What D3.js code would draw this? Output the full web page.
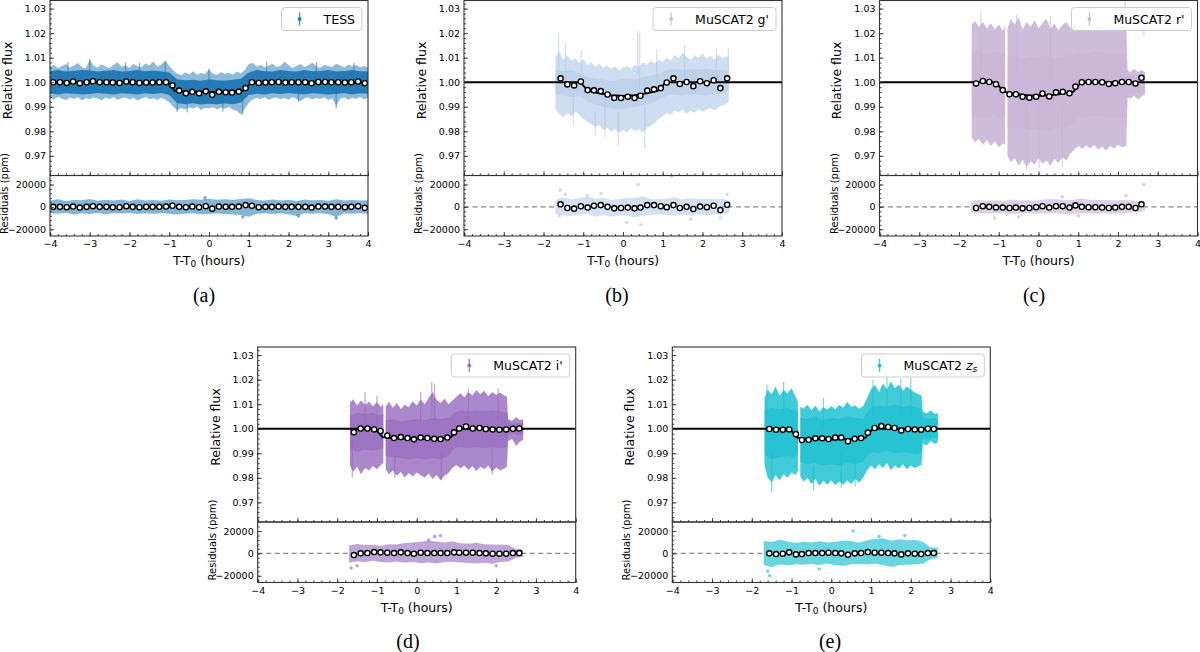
<!DOCTYPE html>
<html>
<head>
<meta charset="utf-8">
<script src="https://cdn.jsdelivr.net/npm/d3@7"></script>
<style>
  body { margin: 0; background: #fff; }
  svg { display: block; }
  text { font-family: "DejaVu Sans", sans-serif; fill: #000; }
</style>
</head>
<body>
<svg id="fig" width="1200" height="652"></svg>
<script>
'use strict';

// ---- ticks ----
var xTicks = [-4, -3, -2, -1, 0, 1, 2, 3, 4];
var fluxTicks = [0.97, 0.98, 0.99, 1.00, 1.01, 1.02, 1.03];
var resTicks = [-20000, 0, 20000];

// ---- (a) TESS ----
var tessBinT = [-3.92,-3.75,-3.58,-3.42,-3.25,-3.08,-2.92,-2.75,-2.58,-2.42,-2.25,-2.08,-1.92,-1.75,-1.58,-1.42,-1.25,-1.08,-0.92,-0.75,-0.58,-0.42,-0.25,-0.08,0.08,0.25,0.42,0.58,0.75,0.92,1.08,1.25,1.42,1.58,1.75,1.92,2.08,2.25,2.42,2.58,2.75,2.92,3.08,3.25,3.42,3.58,3.75,3.92];
var tessBinF = [1.0000,1.0000,0.9997,1.0003,0.9996,1.0000,1.0004,1.0000,1.0000,0.9999,0.9997,1.0003,1.0000,0.9997,0.9999,0.9999,1.0000,1.0000,0.9987,0.9966,0.9955,0.9961,0.9955,0.9963,0.9949,0.9961,0.9959,0.9958,0.9962,0.9976,1.0000,0.9997,0.9999,1.0000,1.0001,0.9999,1.0000,1.0000,1.0000,0.9996,1.0001,1.0001,1.0000,1.0000,0.9999,1.0000,1.0003,0.9996];
var tessBinR = [0,0,-300,300,-600,0,600,0,0,-300,-300,600,0,-300,0,0,0,300,1000,0,-300,300,-300,600,-1600,300,0,0,300,1600,1000,-300,0,0,300,0,0,0,0,-600,300,300,0,0,-300,0,600,-900];
var tessModelT = [-4, -1.07, -0.85, -0.5, 0, 0.5, 0.85, 1.07, 4];
var tessModelF = [1, 1, 0.9964, 0.9961, 0.9960, 0.9961, 0.9964, 1, 1];
var tessCloudT = [-4.0,-3.9,-3.8,-3.7,-3.6,-3.5,-3.4,-3.3,-3.2,-3.1,-3.0,-2.9,-2.8,-2.7,-2.6,-2.5,-2.4,-2.3,-2.2,-2.1,-2.0,-1.9,-1.8,-1.7,-1.6,-1.5,-1.4,-1.3,-1.2,-1.1,
    -1.0,-0.9,-0.8,-0.7,-0.6,-0.5,-0.4,-0.3,-0.2,-0.1,0.0,0.1,0.2,0.3,0.4,0.5,0.6,0.7,0.8,0.9,1.0,
    1.1,1.2,1.3,1.4,1.5,1.6,1.7,1.8,1.9,2.0,2.1,2.2,2.3,2.4,2.5,2.6,2.7,2.8,2.9,3.0,3.1,3.2,3.3,3.4,3.5,3.6,3.7,3.8,3.9,4.0];
var tessCloudHi = [1.0062,1.0070,1.0058,1.0066,1.0074,1.0060,1.0068,1.0078,1.0062,1.0057,
    1.0092,1.0066,1.0060,1.0072,1.0064,1.0058,1.0070,1.0081,1.0063,1.0068,
    1.0059,1.0074,1.0066,1.0061,1.0076,1.0069,1.0084,1.0063,1.0072,1.0088,
    1.0066,1.0048,1.0036,1.0028,1.0040,1.0032,1.0045,1.0030,1.0038,1.0034,
    1.0052,1.0036,1.0029,1.0042,1.0034,1.0039,1.0031,1.0044,1.0036,1.0050,1.0074,
    1.0078,1.0064,1.0070,1.0060,1.0068,1.0075,1.0062,1.0066,1.0084,1.0070,
    1.0058,1.0066,1.0074,1.0062,1.0069,1.0080,1.0064,1.0059,1.0071,1.0066,
    1.0062,1.0075,1.0068,1.0060,1.0072,1.0065,1.0070,1.0061,1.0066,1.0060];
var tessCloudLo = [0.9936,0.9930,0.9941,0.9933,0.9928,0.9938,0.9932,0.9940,0.9926,0.9935,
    0.9931,0.9939,0.9934,0.9927,0.9937,0.9932,0.9940,0.9929,0.9935,0.9938,
    0.9930,0.9936,0.9926,0.9934,0.9940,0.9931,0.9935,0.9928,0.9937,0.9930,
    0.9918,0.9900,0.9886,0.9895,0.9889,0.9898,0.9892,0.9901,0.9887,0.9896,
    0.9893,0.9899,0.9889,0.9897,0.9892,0.9900,0.9888,0.9884,0.9868,0.9892,0.9915,
    0.9930,0.9937,0.9932,0.9940,0.9928,0.9935,0.9938,0.9931,0.9936,0.9929,
    0.9940,0.9933,0.9922,0.9935,0.9938,0.9930,0.9936,0.9932,0.9939,0.9928,
    0.9935,0.9904,0.9933,0.9938,0.9929,0.9936,0.9932,0.9940,0.9931,0.9936];
var tessCoreT = [-4.0,-3.8,-3.6,-3.4,-3.2,-3.0,-2.8,-2.6,-2.4,-2.2,-2.0,-1.8,-1.6,-1.4,-1.2,-1.0,-0.8,-0.6,-0.4,-0.2,0.0,0.2,0.4,0.6,0.8,1.0,1.2,1.4,1.6,1.8,2.0,2.2,2.4,2.6,2.8,3.0,3.2,3.4,3.6,3.8,4.0];
var tessCoreHi = [1.0045,1.0050,1.0044,1.0047,1.0050,1.0048,1.0044,1.0047,1.0050,1.0044,1.0046,1.0050,1.0045,1.0048,1.0044,1.0040,1.0012,1.0008,1.0010,1.0006,1.0012,1.0008,1.0007,1.0010,1.0014,1.0040,1.0050,1.0045,1.0044,1.0050,1.0046,1.0044,1.0050,1.0045,1.0046,1.0050,1.0044,1.0046,1.0050,1.0045,1.0044];
var tessCoreLo = [0.9955,0.9950,0.9955,0.9953,0.9950,0.9952,0.9956,0.9953,0.9950,0.9955,0.9953,0.9950,0.9955,0.9952,0.9956,0.9948,0.9914,0.9910,0.9914,0.9909,0.9912,0.9910,0.9913,0.9910,0.9916,0.9948,0.9953,0.9950,0.9955,0.9952,0.9956,0.9953,0.9950,0.9955,0.9953,0.9950,0.9952,0.9956,0.9950,0.9955,0.9953];
var tessSpikeT = [-3.0, -1.1, 2.25, 3.2, 0.85, -0.8, 0.0, -3.55, -2.1, -0.55, 0.35, 1.45, 2.7, 3.65, -1.75];
var tessSpikeHi = [1.0095, 1.0085, 0.9955, 0.9975, 0.9950, 0.9965, 1.0055, 1.0082, 1.0080, 0.9945, 0.9950, 1.0085, 1.0082, 1.0080, 1.0078];
var tessSpikeLo = [1.0005, 1.0000, 0.9920, 0.9895, 0.9868, 0.9880, 0.9990, 1.0010, 1.0010, 0.9878, 0.9880, 1.0015, 1.0010, 1.0012, 1.0010];
var tessResT = [-4.0,-3.8,-3.6,-3.4,-3.2,-3.0,-2.8,-2.6,-2.4,-2.2,-2.0,-1.8,-1.6,-1.4,-1.2,-1.0,-0.8,-0.6,-0.4,-0.2,0.0,0.2,0.4,0.6,0.8,1.0,1.2,1.4,1.6,1.8,2.0,2.2,2.4,2.6,2.8,3.0,3.2,3.4,3.6,3.8,4.0];
var tessResHi = [5500,6800,5200,6200,5800,7000,5400,6300,5600,6600,5300,6900,5700,6100,5400,6500,5800,6200,6900,6300,7200,6400,6800,6100,7000,7600,6200,5600,6500,5700,6300,5200,6600,5800,6100,5500,6800,5600,6200,5700,6000];
var tessResLo = [-5600,-6200,-5300,-6800,-5700,-6300,-5400,-6600,-5800,-6000,-5500,-6400,-5700,-6200,-5600,-6100,-6700,-6200,-5800,-6600,-6300,-5900,-6400,-6700,-7200,-8800,-6200,-5700,-6300,-5600,-6600,-8200,-5700,-6200,-5600,-6300,-9000,-5700,-6200,-5600,-6100];
var tessOutT = [0.85, 2.25, 3.2, -0.1];
var tessOutV = [-9000, -8000, -10000, 8000];

// ---- (b) MuSCAT2 g' ----
var gBinT = [-1.57,-1.40,-1.23,-1.06,-0.89,-0.73,-0.56,-0.39,-0.22,-0.05,0.12,0.29,0.44,0.61,0.78,0.95,1.10,1.27,1.43,1.60,1.77,1.94,2.11,2.28,2.45,2.62];
var gBinF = [1.0016,0.9991,0.9987,1.0003,0.9968,0.9967,0.9964,0.9950,0.9936,0.9936,0.9941,0.9936,0.9945,0.9966,0.9971,0.9976,0.9999,1.0016,0.9993,1.0001,0.9984,1.0004,0.9996,1.0008,0.9976,1.0016];
var gBinR = [2300,-1000,-1600,600,-600,1000,1600,0,-1300,-1000,-600,-1300,-600,1600,1600,600,-300,1600,-1000,0,-1900,300,-300,1000,-2900,1900];
var gModelT = [-4, -1.08, -0.88, -0.6, -0.3, 0, 0.3, 0.6, 0.88, 1.08, 4];
var gModelF = [1, 1, 0.9966, 0.9955, 0.9947, 0.9944, 0.9947, 0.9955, 0.9966, 1, 1];
var gCloudT = [-1.7,-1.6,-1.5,-1.4,-1.3,-1.2,-1.1,-1.0,-0.9,-0.8,-0.7,-0.6,-0.5,-0.4,-0.3,-0.2,-0.1,0.0,0.1,0.2,
    0.3,0.4,0.5,0.6,0.7,0.8,0.9,1.0,1.1,1.2,1.3,1.4,1.5,1.6,1.7,1.8,1.9,2.0,2.1,2.2,2.3,2.4,2.5,2.6,2.66];
var gCloudHi = [1.0105,1.0125,1.0090,1.0110,1.0085,1.0100,1.0078,1.0095,1.0070,1.0082,
    1.0062,1.0075,1.0058,1.0068,1.0055,1.0064,1.0050,1.0060,1.0066,1.0054,
    1.0072,1.0062,1.0080,1.0070,1.0088,1.0076,1.0092,1.0082,1.0100,1.0088,
    1.0112,1.0098,1.0120,1.0104,1.0092,1.0110,1.0100,1.0118,1.0096,1.0108,
    1.0090,1.0112,1.0098,1.0106,1.0100];
var gCloudLo = [0.9890,0.9870,0.9855,0.9875,0.9860,0.9880,0.9868,0.9850,0.9842,0.9830,
    0.9818,0.9825,0.9805,0.9815,0.9798,0.9810,0.9792,0.9805,0.9796,0.9812,
    0.9800,0.9808,0.9795,0.9815,0.9822,0.9835,0.9850,0.9862,0.9875,0.9868,
    0.9885,0.9878,0.9890,0.9872,0.9884,0.9876,0.9892,0.9880,0.9888,0.9895,
    0.9885,0.9898,0.9905,0.9912,0.9920];
var gCoreT = [-1.70,-1.50,-1.30,-1.10,-0.90,-0.70,-0.50,-0.30,-0.10,0.10,0.30,0.50,0.70,0.90,1.10,1.30,1.50,1.70,1.90,2.10,2.30,2.50,2.66];
var gCoreHi = [1.0050,1.0045,1.0050,1.0040,1.0020,1.0015,1.0010,1.0005,1.0010,1.0015,1.0010,1.0020,1.0025,1.0035,1.0050,1.0055,1.0050,1.0055,1.0050,1.0055,1.0050,1.0050,1.0045];
var gCoreLo = [0.9950,0.9945,0.9940,0.9945,0.9920,0.9910,0.9900,0.9895,0.9890,0.9895,0.9900,0.9905,0.9915,0.9930,0.9945,0.9950,0.9945,0.9950,0.9950,0.9945,0.9950,0.9955,0.9960];
var gSpikeT = [-1.62, -1.45, -1.25, -0.45, -0.12, 0.37, 0.42, 0.55, 2.65, -1.05, 0.85, 1.55, 2.35, -0.7];
var gSpikeHi = [1.0200, 1.0160, 0.9950, 0.9970, 0.9880, 1.0210, 1.0200, 0.9900, 1.0140, 1.0130, 1.0135, 1.0150, 1.0140, 0.9880];
var gSpikeLo = [1.0040, 1.0000, 0.9820, 0.9775, 0.9740, 1.0030, 0.9960, 0.9730, 1.0000, 1.0010, 1.0000, 1.0020, 1.0010, 0.9780];
var gResT = [-1.7,-1.5,-1.3,-1.1,-0.9,-0.7,-0.5,-0.3,-0.1,0.1,0.3,0.5,0.7,0.9,1.1,1.3,1.5,1.7,1.9,2.1,2.3,2.5,2.68];
var gResHi = [6000,8500,6500,7800,9000,7200,8000,6200,7000,7600,8200,9500,7000,6800,7400,8600,6300,7800,6800,7200,6500,7300,5000];
var gResLo = [-6500,-7500,-8200,-6800,-6200,-8600,-7400,-8800,-7200,-7800,-9200,-7600,-7000,-6600,-7200,-8000,-6800,-7600,-6600,-7800,-6400,-6200,-5000];
var gOutT = [-1.58, -1.45, -0.55, 0.38, 0.45, 1.22, 2.62, -1.60, 0.10, 2.45, -0.90, 1.70];
var gOutV = [15000, 11000, 12000, 20000, -16000, 27000, 11000, -8000, -14000, -10000, 10000, -11000];

// ---- (c) MuSCAT2 r' ----
var rBinT = [-1.57,-1.40,-1.24,-1.07,-0.90,-0.73,-0.57,-0.40,-0.23,-0.06,0.10,0.27,0.44,0.61,0.78,0.93,1.09,1.26,1.43,1.60,1.77,1.93,2.10,2.27,2.44,2.59];
var rBinF = [0.9995,1.0005,1.0001,0.9992,0.9968,0.9951,0.9951,0.9941,0.9937,0.9941,0.9954,0.9942,0.9959,0.9961,0.9955,0.9982,1.0000,1.0001,1.0001,1.0000,0.9993,0.9996,1.0001,1.0001,0.9995,1.0018];
var rBinR = [-1000,600,0,-600,-600,-1000,-600,-1300,-1000,-300,600,-600,600,600,-600,1300,0,-300,-300,-600,-1000,-600,0,0,-1000,2300];
var rModelT = [-4, -1.08, -0.88, -0.6, -0.3, 0, 0.3, 0.6, 0.88, 1.08, 4];
var rModelF = [1, 1, 0.9962, 0.9953, 0.9947, 0.9945, 0.9947, 0.9953, 0.9962, 1, 1];
var rCloudT = [-1.68,-1.6,-1.5,-1.4,-1.3,-1.2,-1.1,-1.0,-0.9,-0.84,
    -0.81,
    -0.78,-0.7,-0.6,-0.5,-0.4,-0.3,-0.2,-0.1,0.0,0.1,0.2,0.3,0.4,0.5,0.6,0.7,0.8,0.9,1.0,1.1,1.2,1.3,1.4,1.5,1.6,1.7,1.8,1.9,2.0,2.1,2.21,
    2.24,2.3,2.4,2.5,2.6,2.68];
var rCloudHi = [1.0235,1.0250,1.0225,1.0245,1.0220,1.0240,1.0215,1.0235,1.0210,1.0230,
    null,
    1.0220,1.0258,1.0235,1.0265,1.0215,1.0245,1.0225,1.0255,1.0220,1.0240,1.0260,1.0218,1.0238,1.0212,1.0232,1.0245,1.0222,1.0238,1.0215,1.0230,1.0212,1.0225,1.0218,1.0232,1.0215,1.0228,1.0212,1.0225,1.0218,1.0230,1.0220,
    1.0050,1.0040,1.0055,1.0042,1.0050,1.0040];
var rCloudLo = [0.9775,0.9755,0.9770,0.9745,0.9765,0.9740,0.9760,0.9735,0.9750,0.9745,
    null,
    0.9700,0.9675,0.9690,0.9660,0.9685,0.9655,0.9678,0.9665,0.9690,0.9668,0.9680,0.9660,0.9688,0.9670,0.9695,0.9680,0.9710,0.9725,0.9740,0.9728,0.9742,0.9730,0.9745,0.9725,0.9738,0.9722,0.9740,0.9730,0.9745,0.9735,0.9740,
    0.9940,0.9932,0.9945,0.9930,0.9942,0.9950];
var rCoreT = [-1.68,-1.50,-1.30,-1.10,-0.95,-0.84,-0.81,-0.78,-0.60,-0.40,-0.20,0.00,0.20,0.40,0.60,0.80,1.00,1.20,1.40,1.60,1.80,2.00,2.21,2.24,2.40,2.55,2.68];
var rCoreHi = [1.0120,1.0130,1.0110,1.0125,1.0115,1.0120,null,1.0100,1.0110,1.0095,1.0105,1.0100,1.0110,1.0100,1.0105,1.0110,1.0120,1.0115,1.0125,1.0120,1.0115,1.0120,1.0115,1.0030,1.0025,1.0030,1.0025];
var rCoreLo = [0.9870,0.9860,0.9855,0.9865,0.9850,0.9860,null,0.9820,0.9810,0.9815,0.9805,0.9810,0.9800,0.9815,0.9810,0.9825,0.9860,0.9855,0.9865,0.9860,0.9855,0.9860,0.9855,0.9960,0.9955,0.9960,0.9965];
var rSpikeT = [-1.45, -0.30, 0.02, 0.30, 2.65, 2.18, -0.55, 0.6];
var rSpikeHi = [1.0290, 0.9900, 0.9950, 1.0270, 1.0240, 1.0330, 1.0275, 0.9900];
var rSpikeLo = [1.0050, 0.9640, 0.9650, 1.0000, 1.0190, 1.0150, 1.0050, 0.9655];
var rResT = [-1.7,-1.5,-1.3,-1.1,-0.9,-0.7,-0.5,-0.3,-0.1,0.1,0.3,0.5,0.7,0.9,1.1,1.3,1.5,1.7,1.9,2.1,2.3,2.5,2.68];
var rResHi = [4500,6200,5400,5800,5000,6600,5600,6000,5500,6300,7000,6500,6000,6400,7600,6200,5800,6100,5600,6200,5800,5000,4500];
var rResLo = [-5000,-5600,-6100,-5400,-6000,-6600,-6000,-5600,-6200,-5600,-6000,-5700,-6500,-6100,-5800,-5600,-6200,-5700,-6100,-5600,-5200,-4600,-4000];
var rOutT = [-1.10, 0.60, 2.20, 2.65, -0.50, 1.00];
var rOutV = [-10000, 9000, 10000, 20000, -9000, -8000];

// ---- (d) MuSCAT2 i' ----
var iBinT = [-1.58,-1.41,-1.24,-1.07,-0.91,-0.74,-0.57,-0.40,-0.23,-0.07,0.10,0.27,0.44,0.60,0.77,0.94,1.07,1.24,1.41,1.58,1.74,1.91,2.08,2.25,2.42,2.58];
var iBinF = [0.9986,1.0001,1.0001,0.9997,0.9991,0.9972,0.9962,0.9966,0.9962,0.9957,0.9964,0.9962,0.9959,0.9958,0.9964,0.9985,1.0001,1.0009,1.0001,1.0003,0.9999,0.9997,0.9996,0.9997,1.0000,1.0001];
var iBinR = [-1500,0,300,1200,900,600,300,900,300,-300,600,300,300,300,300,900,600,600,600,300,0,-300,-300,-300,300,300];
var iModelT = [-4, -1.05, -0.86, -0.6, -0.3, 0, 0.3, 0.6, 0.86, 1.05, 4];
var iModelF = [1, 1, 0.9966, 0.9961, 0.9959, 0.9958, 0.9959, 0.9961, 0.9966, 1, 1];
var iCloudT = [-1.68,-1.6,-1.5,-1.4,-1.3,-1.2,-1.1,-1.0,-0.9,-0.84,
    -0.81,
    -0.78,-0.7,-0.6,-0.5,-0.4,-0.3,-0.2,-0.1,0.0,0.1,0.2,0.3,0.4,0.5,0.6,0.7,0.8,0.9,1.0,1.1,1.2,1.3,1.4,1.5,1.6,1.7,1.8,1.9,2.0,2.1,2.2,2.27,
    2.3,2.4,2.5,2.6,2.68];
var iCloudHi = [1.0105,1.0120,1.0095,1.0115,1.0098,1.0110,1.0092,1.0108,1.0090,1.0100,
    null,
    1.0090,1.0110,1.0085,1.0105,1.0080,1.0098,1.0088,1.0112,1.0095,1.0120,1.0100,1.0125,1.0150,1.0118,1.0105,1.0122,1.0100,1.0115,1.0130,1.0145,1.0128,1.0150,1.0135,1.0158,1.0140,1.0155,1.0132,1.0150,1.0138,1.0148,1.0135,1.0130,
    1.0040,1.0032,1.0048,1.0035,1.0040];
var iCloudLo = [0.9850,0.9825,0.9845,0.9815,0.9840,0.9830,0.9848,0.9835,0.9852,0.9860,
    null,
    0.9835,0.9815,0.9830,0.9808,0.9825,0.9800,0.9820,0.9805,0.9822,0.9810,0.9800,0.9818,0.9795,0.9812,0.9790,0.9808,0.9820,0.9840,0.9852,0.9838,0.9850,0.9832,0.9848,0.9828,0.9845,0.9835,0.9850,0.9825,0.9842,0.9830,0.9838,0.9845,
    0.9950,0.9958,0.9930,0.9948,0.9955];
var iCoreT = [-1.68,-1.50,-1.30,-1.10,-0.95,-0.84,-0.81,-0.78,-0.60,-0.40,-0.20,0.00,0.20,0.40,0.60,0.80,0.95,1.10,1.30,1.50,1.70,1.90,2.10,2.27,2.30,2.45,2.60,2.68];
var iCoreHi = [1.0055,1.0065,1.0060,1.0065,1.0055,1.0060,null,1.0035,1.0040,1.0030,1.0035,1.0040,1.0035,1.0045,1.0040,1.0045,1.0065,1.0075,1.0070,1.0075,1.0070,1.0075,1.0070,1.0065,1.0025,1.0020,1.0025,1.0020];
var iCoreLo = [0.9915,0.9905,0.9915,0.9910,0.9915,0.9920,null,0.9890,0.9885,0.9880,0.9875,0.9880,0.9875,0.9880,0.9875,0.9890,0.9920,0.9925,0.9920,0.9925,0.9920,0.9925,0.9920,0.9925,0.9975,0.9980,0.9970,0.9975];
var iSpikeT = [-1.62, -1.30, 0.38, 0.45, 0.62, 1.90, -0.55, -1.0, 0.1, 1.3, 2.05];
var iSpikeHi = [0.9950, 1.0150, 1.0190, 1.0180, 0.9900, 0.9920, 0.9890, 1.0135, 1.0150, 1.0165, 1.0165];
var iSpikeLo = [0.9800, 1.0020, 1.0050, 1.0040, 0.9790, 0.9815, 0.9800, 1.0010, 1.0020, 1.0040, 1.0030];
var iResT = [-1.7,-1.5,-1.3,-1.1,-0.9,-0.7,-0.5,-0.3,-0.1,0.1,0.3,0.5,0.7,0.9,1.1,1.3,1.5,1.7,1.9,2.1,2.3,2.5,2.68];
var iResHi = [7000,8400,7500,7800,6500,8200,8000,9200,9800,10400,11200,10500,9600,10800,9000,8600,9400,8200,8000,7600,7800,4000,3500];
var iResLo = [-8200,-7000,-7600,-6600,-7600,-8200,-7200,-8400,-7600,-8800,-8200,-9000,-7800,-7400,-8200,-8600,-9000,-8400,-9200,-7600,-7200,-4200,-3000];
var iOutT = [-1.65, 0.45, 0.60, -1.50, 2.00, 0.30];
var iOutV = [-13000, 15000, 16000, -11000, -11000, 12000];

// ---- (e) MuSCAT2 z_s ----
var zBinT = [-1.56,-1.39,-1.22,-1.06,-0.89,-0.74,-0.57,-0.40,-0.23,-0.07,0.10,0.25,0.42,0.59,0.75,0.92,1.09,1.26,1.43,1.59,1.76,1.93,2.10,2.26,2.43,2.58];
var zBinF = [0.9999,0.9996,0.9996,0.9997,0.9978,0.9954,0.9955,0.9961,0.9961,0.9958,0.9964,0.9964,0.9949,0.9959,0.9962,0.9984,1.0003,1.0011,1.0007,1.0003,0.9993,0.9999,0.9997,0.9996,1.0000,0.9999];
var zBinR = [0,-600,-300,900,-900,-600,300,300,300,600,300,0,-1200,0,300,1200,600,600,300,0,-900,0,-300,-600,300,300];
var zModelT = [-4, -1.05, -0.86, -0.6, -0.3, 0, 0.3, 0.6, 0.86, 1.05, 4];
var zModelF = [1, 1, 0.9964, 0.9959, 0.9957, 0.9956, 0.9957, 0.9959, 0.9964, 1, 1];
var zCloudT = [-1.68,-1.6,-1.5,-1.4,-1.3,-1.2,-1.1,-1.0,-0.9,-0.84,
    -0.81,
    -0.78,-0.7,-0.6,-0.5,-0.4,-0.3,-0.2,-0.1,0.0,0.1,0.2,0.3,0.4,0.5,0.6,0.7,0.8,
    0.9,1.0,1.1,1.2,1.3,1.4,1.5,1.6,1.7,1.8,1.9,2.0,2.1,2.2,2.27,
    2.3,2.4,2.5,2.6,2.68];
var zCloudHi = [1.0125,1.0160,1.0140,1.0172,1.0135,1.0158,1.0145,1.0165,1.0130,1.0110,
    null,
    1.0090,1.0082,1.0098,1.0075,1.0095,1.0070,1.0088,1.0078,1.0092,1.0080,1.0098,1.0085,1.0110,1.0090,1.0095,1.0082,1.0092,
    1.0125,1.0162,1.0178,1.0150,1.0185,1.0160,1.0192,1.0165,1.0180,1.0155,1.0172,1.0160,1.0148,1.0140,1.0135,
    1.0070,1.0062,1.0075,1.0060,1.0065];
var zCloudLo = [0.9850,0.9800,0.9782,0.9810,0.9790,0.9815,0.9800,0.9822,0.9810,0.9830,
    null,
    0.9805,0.9785,0.9800,0.9775,0.9795,0.9768,0.9788,0.9772,0.9790,0.9770,0.9785,0.9772,0.9790,0.9775,0.9795,0.9780,0.9800,
    0.9830,0.9850,0.9835,0.9855,0.9840,0.9860,0.9832,0.9850,0.9838,0.9855,0.9835,0.9850,0.9840,0.9848,0.9852,
    0.9940,0.9932,0.9950,0.9938,0.9945];
var zCoreT = [-1.68,-1.50,-1.30,-1.10,-0.95,-0.84,-0.81,-0.78,-0.60,-0.40,-0.20,0.00,0.20,0.40,0.60,0.80,0.90,1.00,1.20,1.40,1.60,1.80,2.00,2.15,2.27,2.30,2.45,2.60,2.68];
var zCoreHi = [1.0075,1.0085,1.0080,1.0085,1.0075,1.0070,null,1.0045,1.0040,1.0050,1.0035,1.0045,1.0040,1.0050,1.0045,1.0040,1.0065,1.0090,1.0095,1.0090,1.0100,1.0090,1.0095,1.0085,1.0080,1.0045,1.0040,1.0045,1.0040];
var zCoreLo = [0.9895,0.9875,0.9885,0.9890,0.9885,0.9895,null,0.9865,0.9855,0.9860,0.9850,0.9855,0.9850,0.9860,0.9855,0.9865,0.9890,0.9905,0.9900,0.9910,0.9900,0.9905,0.9900,0.9895,0.9905,0.9960,0.9955,0.9965,0.9960];
var zSpikeT = [-1.50, -0.45, 0.25, 1.05, 1.40, 2.00, -1.20, -1.62, 0.6, 1.75, -0.2];
var zSpikeHi = [0.9900, 0.9850, 0.9900, 1.0200, 1.0220, 1.0210, 1.0190, 1.0180, 0.9880, 1.0205, 1.0125];
var zSpikeLo = [0.9740, 0.9750, 0.9760, 1.0050, 1.0080, 1.0060, 1.0050, 1.0040, 0.9765, 1.0060, 1.0010];
var zResT = [-1.7,-1.5,-1.3,-1.1,-0.9,-0.7,-0.5,-0.3,-0.1,0.1,0.3,0.5,0.7,0.9,1.1,1.3,1.5,1.7,1.9,2.1,2.3,2.5,2.68];
var zResHi = [11000,10200,12400,10600,9200,10400,9800,10800,9600,10200,11400,11000,9400,11800,12800,13400,11200,12600,11800,12200,10400,5200,5000];
var zResLo = [-10200,-12400,-9600,-10800,-9800,-10200,-9400,-10400,-9000,-10600,-11200,-9800,-9400,-10000,-9200,-10400,-12200,-10600,-10200,-9600,-9200,-5200,-4000];
var zOutT = [-1.55, -1.60, 0.55, 1.85, -0.30, 1.20];
var zOutV = [-20000, -16000, 20000, 16000, -14000, 15000];

// ---- layout ----
var mainH = 175;
var resH = 60.5;

var svg = d3.select('#fig');

function zip(keys, arrays) {
    return arrays[0].map(function(_, i) {
        var o = {};
        keys.forEach(function(k, j) { o[k] = arrays[j][i]; });
        return o;
    });
}

var panels = [
    { id: 'a', label: 'TESS', sub: null, color: '#1f77b4', outerOp: 0.5, coreOp: 0.95, resOp: 0.55,
      left: 50, right: 368, top: 0.5, capX: 204,
      bin: zip(['t','f','r'], [tessBinT, tessBinF, tessBinR]),
      model: zip(['t','f'], [tessModelT, tessModelF]),
      cloud: zip(['t','hi','lo'], [tessCloudT, tessCloudHi, tessCloudLo]),
      core: zip(['t','hi','lo'], [tessCoreT, tessCoreHi, tessCoreLo]),
      spikes: zip(['t','hi','lo'], [tessSpikeT, tessSpikeHi, tessSpikeLo]),
      res: zip(['t','hi','lo'], [tessResT, tessResHi, tessResLo]),
      out: zip(['t','v'], [tessOutT, tessOutV]) },
    { id: 'b', label: "MuSCAT2 g'", sub: null, color: '#aec7e8', outerOp: 0.6, coreOp: 0.5, resOp: 0.55,
      left: 464, right: 782, top: 0.5, capX: 617,
      bin: zip(['t','f','r'], [gBinT, gBinF, gBinR]),
      model: zip(['t','f'], [gModelT, gModelF]),
      cloud: zip(['t','hi','lo'], [gCloudT, gCloudHi, gCloudLo]),
      core: zip(['t','hi','lo'], [gCoreT, gCoreHi, gCoreLo]),
      spikes: zip(['t','hi','lo'], [gSpikeT, gSpikeHi, gSpikeLo]),
      res: zip(['t','hi','lo'], [gResT, gResHi, gResLo]),
      out: zip(['t','v'], [gOutT, gOutV]) },
    { id: 'c', label: "MuSCAT2 r'", sub: null, color: '#c5b0d5', outerOp: 0.85, coreOp: 0.35, resOp: 0.6,
      left: 879.5, right: 1197.5, top: 0.5, capX: 1034,
      bin: zip(['t','f','r'], [rBinT, rBinF, rBinR]),
      model: zip(['t','f'], [rModelT, rModelF]),
      cloud: zip(['t','hi','lo'], [rCloudT, rCloudHi, rCloudLo]),
      core: zip(['t','hi','lo'], [rCoreT, rCoreHi, rCoreLo]),
      spikes: zip(['t','hi','lo'], [rSpikeT, rSpikeHi, rSpikeLo]),
      res: zip(['t','hi','lo'], [rResT, rResHi, rResLo]),
      out: zip(['t','v'], [rOutT, rOutV]) },
    { id: 'd', label: "MuSCAT2 i'", sub: null, color: '#9467bd', outerOp: 0.78, coreOp: 0.6, resOp: 0.6,
      left: 257.7, right: 575.7, top: 347, capX: 408,
      bin: zip(['t','f','r'], [iBinT, iBinF, iBinR]),
      model: zip(['t','f'], [iModelT, iModelF]),
      cloud: zip(['t','hi','lo'], [iCloudT, iCloudHi, iCloudLo]),
      core: zip(['t','hi','lo'], [iCoreT, iCoreHi, iCoreLo]),
      spikes: zip(['t','hi','lo'], [iSpikeT, iSpikeHi, iSpikeLo]),
      res: zip(['t','hi','lo'], [iResT, iResHi, iResLo]),
      out: zip(['t','v'], [iOutT, iOutV]) },
    { id: 'e', label: 'MuSCAT2 ', sub: 'z', color: '#17becf', outerOp: 0.82, coreOp: 0.6, resOp: 0.65,
      left: 672.3, right: 990.3, top: 347, capX: 830,
      bin: zip(['t','f','r'], [zBinT, zBinF, zBinR]),
      model: zip(['t','f'], [zModelT, zModelF]),
      cloud: zip(['t','hi','lo'], [zCloudT, zCloudHi, zCloudLo]),
      core: zip(['t','hi','lo'], [zCoreT, zCoreHi, zCoreLo]),
      spikes: zip(['t','hi','lo'], [zSpikeT, zSpikeHi, zSpikeLo]),
      res: zip(['t','hi','lo'], [zResT, zResHi, zResLo]),
      out: zip(['t','v'], [zOutT, zOutV]) }
];

var fmtFlux = d3.format('.2f');
var fmtInt = d3.format('d');

function drawPanel(p) {
    var g = svg.append('g').attr('class', 'panel-' + p.id);

    var x = d3.scaleLinear().domain([-4, 4]).range([p.left, p.right]);
    var yF = d3.scaleLinear().domain([0.962, 1.0333]).range([p.top + mainH, p.top]);
    var yR = d3.scaleLinear().domain([-26000, 28000]).range([p.top + mainH + resH, p.top + mainH]);

    var clipMain = 'clipm-' + p.id;
    var clipRes = 'clipr-' + p.id;
    var defs = g.append('defs');
    defs.append('clipPath').attr('id', clipMain).append('rect')
        .attr('x', p.left).attr('y', p.top).attr('width', p.right - p.left).attr('height', mainH);
    defs.append('clipPath').attr('id', clipRes).append('rect')
        .attr('x', p.left).attr('y', p.top + mainH).attr('width', p.right - p.left).attr('height', resH);

    // ---- main panel ----
    var gm = g.append('g').attr('clip-path', 'url(#' + clipMain + ')');

    var area = d3.area()
        .defined(function(d) { return d.hi !== null; })
        .x(function(d) { return x(d.t); })
        .y0(function(d) { return yF(d.lo); })
        .y1(function(d) { return yF(d.hi); });

    gm.append('path').datum(p.cloud)
        .attr('d', area)
        .attr('fill', p.color).attr('fill-opacity', p.outerOp);

    gm.append('path').datum(p.core)
        .attr('d', area)
        .attr('fill', p.color).attr('fill-opacity', p.coreOp);

    gm.selectAll('line.spike').data(p.spikes).enter().append('line')
        .attr('class', 'spike')
        .attr('x1', function(d) { return x(d.t); })
        .attr('x2', function(d) { return x(d.t); })
        .attr('y1', function(d) { return yF(d.hi); })
        .attr('y2', function(d) { return yF(d.lo); })
        .attr('stroke', p.color).attr('stroke-opacity', 0.6).attr('stroke-width', 1.2);

    var line = d3.line()
        .x(function(d) { return x(d.t); })
        .y(function(d) { return yF(d.f); });

    gm.append('path').datum(p.model)
        .attr('d', line)
        .attr('fill', 'none').attr('stroke', '#000').attr('stroke-width', 1.8);

    gm.selectAll('circle.bin').data(p.bin).enter().append('circle')
        .attr('class', 'bin')
        .attr('cx', function(d) { return x(d.t); })
        .attr('cy', function(d) { return yF(d.f); })
        .attr('r', 2.6)
        .attr('fill', '#fff').attr('stroke', '#000').attr('stroke-width', 1.4);

    // ---- residual panel ----
    var gr = g.append('g').attr('clip-path', 'url(#' + clipRes + ')');

    gr.append('line')
        .attr('x1', p.left).attr('x2', p.right)
        .attr('y1', yR(0)).attr('y2', yR(0))
        .attr('stroke', '#888').attr('stroke-width', 1.2).attr('stroke-dasharray', '5,3.5');

    var resArea = d3.area()
        .x(function(d) { return x(d.t); })
        .y0(function(d) { return yR(d.lo); })
        .y1(function(d) { return yR(d.hi); });

    gr.append('path').datum(p.res)
        .attr('d', resArea)
        .attr('fill', p.color).attr('fill-opacity', p.resOp);

    gr.selectAll('circle.out').data(p.out).enter().append('circle')
        .attr('class', 'out')
        .attr('cx', function(d) { return x(d.t); })
        .attr('cy', function(d) { return yR(d.v); })
        .attr('r', 1.8)
        .attr('fill', p.color).attr('fill-opacity', 0.6);

    gr.selectAll('circle.rbin').data(p.bin).enter().append('circle')
        .attr('class', 'rbin')
        .attr('cx', function(d) { return x(d.t); })
        .attr('cy', function(d) { return yR(d.r); })
        .attr('r', 2.6)
        .attr('fill', '#fff').attr('stroke', '#000').attr('stroke-width', 1.4);

    // ---- axes (ticks inward, left and bottom only) ----
    var xMinor = d3.range(-20, 21).map(function(k) { return k * 0.2; });
    var fMinor = d3.range(481, 517).map(function(k) { return k * 0.002; })
        .filter(function(v) { return v > 0.962 && v < 1.0333; });
    var rMinor = d3.range(-24000, 28000, 4000);

    function styleAxis(sel) {
        sel.select('.domain').remove();
        sel.selectAll('line').attr('stroke', '#333').attr('stroke-width', 0.9);
        sel.selectAll('text').style('font-size', '9.5px').style('font-family', '"DejaVu Sans", sans-serif');
    }

    // main: x ticks at bottom, no labels
    g.append('g').attr('transform', 'translate(0,' + (p.top + mainH) + ')')
        .call(d3.axisBottom(x).tickValues(xMinor).tickSize(-2).tickFormat(''))
        .call(styleAxis);
    g.append('g').attr('transform', 'translate(0,' + (p.top + mainH) + ')')
        .call(d3.axisBottom(x).tickValues(xTicks).tickSize(-4).tickFormat(''))
        .call(styleAxis);
    // main: y
    g.append('g').attr('transform', 'translate(' + p.left + ',0)')
        .call(d3.axisLeft(yF).tickValues(fMinor).tickSize(-2).tickFormat(''))
        .call(styleAxis);
    g.append('g').attr('transform', 'translate(' + p.left + ',0)')
        .call(d3.axisLeft(yF).tickValues(fluxTicks).tickSize(-4).tickPadding(4).tickFormat(fmtFlux))
        .call(styleAxis);
    // residual: x
    g.append('g').attr('transform', 'translate(0,' + (p.top + mainH + resH) + ')')
        .call(d3.axisBottom(x).tickValues(xMinor).tickSize(-2).tickFormat(''))
        .call(styleAxis);
    g.append('g').attr('transform', 'translate(0,' + (p.top + mainH + resH) + ')')
        .call(d3.axisBottom(x).tickValues(xTicks).tickSize(-4).tickPadding(4.5).tickFormat(fmtInt))
        .call(styleAxis);
    // residual: y
    g.append('g').attr('transform', 'translate(' + p.left + ',0)')
        .call(d3.axisLeft(yR).tickValues(rMinor).tickSize(-2).tickFormat(''))
        .call(styleAxis);
    g.append('g').attr('transform', 'translate(' + p.left + ',0)')
        .call(d3.axisLeft(yR).tickValues(resTicks).tickSize(-4).tickPadding(4).tickFormat(fmtInt))
        .call(styleAxis);

    // spines
    g.append('rect')
        .attr('x', p.left).attr('y', p.top).attr('width', p.right - p.left).attr('height', mainH)
        .attr('fill', 'none').attr('stroke', '#333').attr('stroke-width', 1.1);
    g.append('rect')
        .attr('x', p.left).attr('y', p.top + mainH).attr('width', p.right - p.left).attr('height', resH)
        .attr('fill', 'none').attr('stroke', '#333').attr('stroke-width', 1.1);

    // axis labels
    g.append('text')
        .attr('transform', 'translate(' + (p.left - 42.5) + ',' + (p.top + 80) + ') rotate(-90)')
        .attr('text-anchor', 'middle').attr('dy', '0.35em')
        .style('font-size', '12.5px')
        .text('Relative flux');
    g.append('text')
        .attr('transform', 'translate(' + (p.left - 45.5) + ',' + (p.top + 193) + ') rotate(-90)')
        .attr('text-anchor', 'middle').attr('dy', '0.35em')
        .style('font-size', '10px')
        .text('Residuals (ppm)');
    var xl = g.append('text')
        .attr('x', (p.left + p.right) / 2).attr('y', p.top + 264.5)
        .attr('text-anchor', 'middle')
        .style('font-size', '12.5px');
    xl.append('tspan').text('T-T');
    xl.append('tspan').attr('baseline-shift', '-22%').style('font-size', '9px').text('0');
    xl.append('tspan').text(' (hours)');

    // legend
    var lg = g.append('g');
    var box = lg.append('rect');
    var lt = lg.append('text').style('font-size', '12.5px');
    lt.append('tspan').text(p.label);
    if (p.sub) {
        lt.append('tspan').style('font-style', 'italic').text(p.sub);
        lt.append('tspan').style('font-style', 'italic').style('font-size', '9px')
            .attr('baseline-shift', '-25%').text('s');
    }
    var tw = lt.node().getComputedTextLength();
    var bw = 42 + tw + 7;
    var bx = p.right - 6 - bw;
    var by = p.top + 7;
    box.attr('x', bx).attr('y', by).attr('width', bw).attr('height', 23)
        .attr('rx', 3).attr('fill', '#fff').attr('fill-opacity', 0.85)
        .attr('stroke', '#cccccc').attr('stroke-width', 1);
    lt.attr('x', bx + 42).attr('y', by + 16);
    lg.append('line')
        .attr('x1', bx + 18).attr('x2', bx + 18).attr('y1', by + 5).attr('y2', by + 18)
        .attr('stroke', p.color).attr('stroke-opacity', 0.8).attr('stroke-width', 1.4);
    lg.append('circle')
        .attr('cx', bx + 18).attr('cy', by + 11.5).attr('r', 2)
        .attr('fill', p.color).attr('fill-opacity', 0.9);

    // caption
    svg.append('text')
        .attr('x', p.capX).attr('y', p.top + 301)
        .attr('text-anchor', 'middle')
        .style('font-family', '"Liberation Serif", "Times New Roman", serif')
        .style('font-size', '20px')
        .text('(' + p.id + ')');
}

panels.forEach(drawPanel);
</script>
</body>
</html>
